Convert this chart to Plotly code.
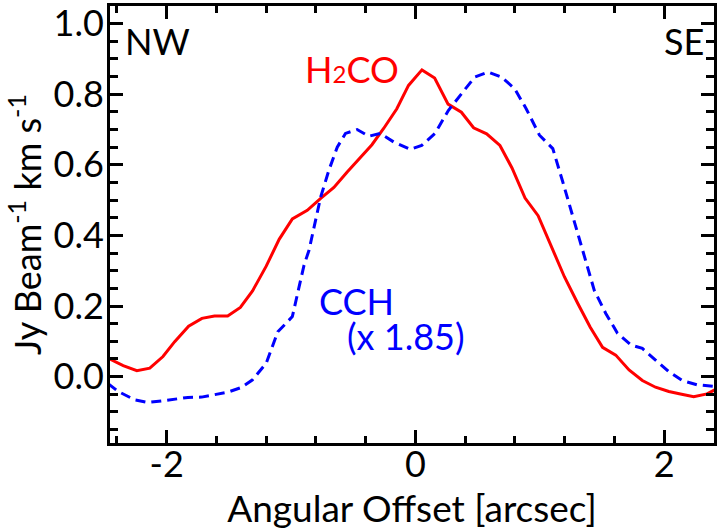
import plotly.graph_objects as go

# H2CO profile
h2co_x = [-2.47, -2.35, -2.24, -2.136, -2.03, -1.936, -1.824, -1.717, -1.616, -1.51,
          -1.408, -1.31, -1.2, -1.096, -0.99, -0.87, -0.762, -0.656, -0.549, -0.442,
          -0.35, -0.256, -0.15, -0.056, 0.052, 0.154, 0.262, 0.369, 0.467, 0.572,
          0.679, 0.776, 0.881, 0.986, 1.098, 1.197, 1.304, 1.405, 1.504, 1.61,
          1.717, 1.824, 1.93, 2.037, 2.13, 2.237, 2.344, 2.42]
h2co_y = [0.052, 0.031, 0.017, 0.024, 0.057, 0.099, 0.143, 0.165, 0.172, 0.172,
          0.196, 0.243, 0.313, 0.389, 0.447, 0.471, 0.505, 0.536, 0.58, 0.622,
          0.657, 0.703, 0.759, 0.825, 0.869, 0.846, 0.772, 0.749, 0.705, 0.688,
          0.655, 0.591, 0.506, 0.456, 0.365, 0.283, 0.208, 0.14, 0.083, 0.061,
          0.019, -0.011, -0.03, -0.042, -0.049, -0.057, -0.049, -0.035]

# CCH profile (x 1.85)
cch_x = [-2.47, -2.39, -2.256, -2.15, -2.044, -1.936, -1.83, -1.72, -1.616, -1.51,
         -1.402, -1.31, -1.2, -1.107, -0.99, -0.896, -0.856, -0.762, -0.696, -0.629,
         -0.563, -0.469, -0.376, -0.283, -0.176, -0.042, 0.05, 0.157, 0.264, 0.37,
         0.477, 0.584, 0.69, 0.797, 0.89, 0.997, 1.104, 1.184, 1.264, 1.344,
         1.437, 1.53, 1.624, 1.731, 1.824, 1.93, 2.037, 2.144, 2.264, 2.42]
cch_y = [-0.02, -0.042, -0.066, -0.073, -0.069, -0.064, -0.059, -0.058, -0.052, -0.044,
         -0.031, -0.009, 0.038, 0.127, 0.17, 0.316, 0.358, 0.509, 0.585, 0.65,
         0.689, 0.70, 0.681, 0.689, 0.665, 0.644, 0.655, 0.689, 0.754, 0.802,
         0.849, 0.863, 0.849, 0.816, 0.759, 0.684, 0.646, 0.552, 0.457, 0.355,
         0.245, 0.179, 0.123, 0.09, 0.08, 0.047, 0.014, -0.011, -0.023, -0.028]

x_ticks = [-2, 0, 2]
x_ticklabels = ["-2", "0", "2"]
y_ticks = [0.0, 0.2, 0.4, 0.6, 0.8, 1.0]
y_ticklabels = ["0.0", "0.2", "0.4", "0.6", "0.8", "1.0"]

FONT = "Lato"

fig = go.Figure()
fig.add_trace(go.Scatter(x=h2co_x, y=h2co_y, mode="lines",
                         line=dict(color="#ff0000", width=3), showlegend=False))
fig.add_trace(go.Scatter(x=cch_x, y=cch_y, mode="lines",
                         line=dict(color="#0000ff", width=3, dash="10px,6px"),
                         showlegend=False))

axis_common = dict(showline=True, linecolor="black", linewidth=3, mirror="ticks",
                   ticks="inside", tickcolor="black", tickwidth=3, ticklen=13,
                   showgrid=False, zeroline=False, ticklabeloverflow="allow",
                   tickfont=dict(family=FONT, size=36, color="black"))

fig.update_xaxes(range=[-2.456, 2.4], tickvals=x_ticks, ticktext=x_ticklabels,
                 ticklabelstandoff=-12,
                 minor=dict(dtick=0.4, tick0=0, ticks="inside", ticklen=7,
                            tickwidth=2.5, tickcolor="black"),
                 title=dict(text="Angular Offset [arcsec]",
                            font=dict(family=FONT, size=37, color="black"), standoff=0),
                 **axis_common)
fig.update_yaxes(range=[-0.188, 1.05], tickvals=y_ticks, ticktext=y_ticklabels,
                 ticklabelstandoff=-4,
                 minor=dict(dtick=0.05, tick0=0, ticks="inside", ticklen=8,
                            tickwidth=2.5, tickcolor="black"),
                 title=dict(text="Jy Beam<sup>-1</sup> km s<sup>-1</sup>",
                            font=dict(family=FONT, size=36, color="black"), standoff=1),
                 **axis_common)

ann_font = dict(family=FONT, size=36)
annotations = [
    dict(text="NW", x=0.0215, y=0.919, xanchor="left", yanchor="middle",
         font=dict(color="black", **ann_font)),
    dict(text="SE", x=0.9865, y=0.919, xanchor="right", yanchor="middle",
         font=dict(color="black", **ann_font)),
    dict(text="H<span style=\"font-size:24px\">2</span>CO", x=0.3195, y=0.855,
         xanchor="left", yanchor="middle", font=dict(color="#ff0000", **ann_font)),
    dict(text="CCH", x=0.343, y=0.3246, xanchor="left", yanchor="middle",
         font=dict(color="#0000ff", **ann_font)),
    dict(text="(x 1.85)", x=0.389, y=0.2446, xanchor="left", yanchor="middle",
         font=dict(color="#0000ff", **ann_font)),
]
for a in annotations:
    fig.add_annotation(xref="paper", yref="paper", showarrow=False, **a)

fig.update_layout(width=717, height=531, margin=dict(l=110, r=0, t=5, b=88),
                  plot_bgcolor="white", paper_bgcolor="white")

fig.write_html("out.html")
